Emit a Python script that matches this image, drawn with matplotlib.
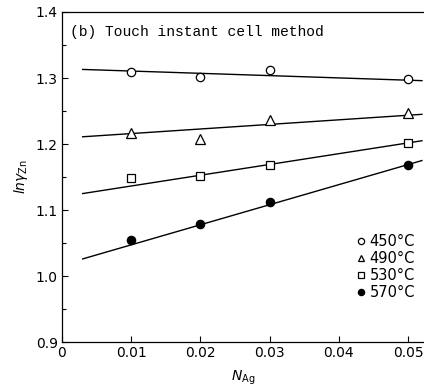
import numpy as np
import matplotlib.pyplot as plt

# Measured ln(gamma_Zn) against silver mole fraction, touch instant cell method
n_ag = [0.01, 0.02, 0.03, 0.05]
ln_gamma = {
    450: [1.309, 1.302, 1.312, 1.298],
    490: [1.217, 1.207, 1.236, 1.247],
    530: [1.148, 1.152, 1.168, 1.201],
    570: [1.055, 1.079, 1.112, 1.168],
}
# straight fitted lines, value at start and end of the drawn range
line_x = [0.003, 0.052]
line_y = {
    450: [1.313, 1.296],
    490: [1.211, 1.245],
    530: [1.125, 1.205],
    570: [1.026, 1.175],
}
markers = {450: 'o', 490: '^', 530: 's', 570: 'o'}
fills = {450: 'white', 490: 'white', 530: 'white', 570: 'black'}
sizes = {450: 6, 490: 6.5, 530: 6, 570: 6}

fig = plt.figure(figsize=(4.24, 3.87), dpi=100)
ax = fig.add_axes([0.146, 0.116, 0.854, 0.853])

for t in [450, 490, 530, 570]:
    ax.plot(line_x, line_y[t], color='black', lw=1.0, zorder=1)
    ax.plot(n_ag, ln_gamma[t], linestyle='none', marker=markers[t],
            markersize=sizes[t], markerfacecolor=fills[t],
            markeredgecolor='black', markeredgewidth=0.9,
            label=f'{t}°C', zorder=2)

ax.set_xlim(0, 0.0523)
ax.set_ylim(0.9, 1.4)
ax.set_xticks([0, 0.01, 0.02, 0.03, 0.04, 0.05])
ax.set_xticklabels(['0', '0.01', '0.02', '0.03', '0.04', '0.05'])
ax.set_yticks([0.9, 1.0, 1.1, 1.2, 1.3, 1.4])
ax.set_yticklabels(['0.9', '1.0', '1.1', '1.2', '1.3', '1.4'])
ax.set_yticks(np.arange(0.95, 1.4, 0.1), minor=True)
ax.tick_params(direction='in', length=4, width=0.8, labelsize=10, pad=3)
ax.tick_params(which='minor', direction='in', length=3, width=0.8)
ax.spines['right'].set_visible(False)
for s in ['left', 'bottom', 'top']:
    ax.spines[s].set_linewidth(0.9)

ax.set_xlabel(r'$N_{\rm Ag}$', fontsize=10, labelpad=6)
ax.set_ylabel(r'$ln\gamma_{\rm Zn}$', fontsize=10, labelpad=4)

ax.text(0.022, 0.94, '(b) Touch instant cell method', transform=ax.transAxes,
        family='Liberation Mono', fontsize=10.5, va='center')

ax.legend(loc='lower right', bbox_to_anchor=(1.0, 0.1), frameon=False,
          handlelength=0.6, handletextpad=0.3, labelspacing=0.15,
          markerscale=0.75, fontsize=10.5, borderaxespad=0.2)

fig.savefig('out.png', dpi=100)
